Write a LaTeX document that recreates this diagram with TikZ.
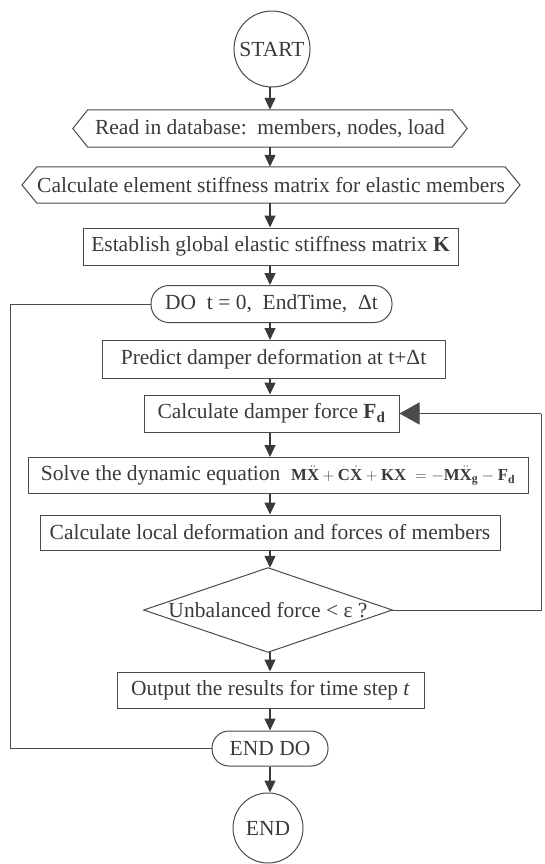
\documentclass[tikz,border=0pt]{standalone}
\usepackage{fontspec}
\setmainfont{Liberation Serif}
\usetikzlibrary{arrows.meta}
\definecolor{ink}{HTML}{3A3A3A}
\definecolor{edge}{HTML}{4A4A4A}
\begin{document}
\begin{tikzpicture}[x=1pt,y=-1pt,
  font=\fontsize{21.5}{25}\selectfont, text=ink,
  box/.style={draw=edge, line width=1pt, rectangle, inner sep=0pt},
  bare/.style={draw=none, rectangle, inner sep=0pt},
  term/.style={draw=edge, line width=1pt, circle, inner sep=0pt},
  outline/.style={draw=edge, line width=1pt},
  conn/.style={draw=ink, line width=1.3pt, -{Triangle[length=12pt,width=11pt]}},
  bigarr/.style={draw=edge, line width=1pt, -{Triangle[length=20pt,width=22pt]}},
  loopline/.style={draw=edge, line width=1pt}]
\useasboundingbox (0,0) rectangle (544,864);

\coordinate (ax) at (270,0);
\coordinate (L) at (10,0);
\coordinate (R) at (541,0);

\node[term, minimum size=76pt] (start) at (272,49) {START};

\node[bare, minimum width=364pt, minimum height=37pt] (read) at (270,128.5) {Read in database:\ \ members, nodes, load};
\draw[outline] (read.north west) -- (read.north east) -- ([xshift=15pt]read.east) -- (read.south east) -- (read.south west) -- ([xshift=-15pt]read.west) -- cycle;

\node[bare, minimum width=462pt, minimum height=36pt] (elem) at (271,185) {Calculate element stiffness matrix for elastic members};
\draw[outline] (elem.north west) -- (elem.north east) -- ([xshift=15pt]elem.east) -- (elem.south east) -- (elem.south west) -- ([xshift=-15pt]elem.west) -- cycle;

\node[box, minimum width=375pt, minimum height=37pt] (glob) at (270.5,246.5) {Establish global elastic stiffness matrix $\mathbf{K}$};

\node[box, rounded corners=18pt, minimum width=241pt, minimum height=37pt] (do) at (271.5,304) {DO\ \ t = 0,\ \ EndTime,\ \ Δt};

\node[box, minimum width=343pt, minimum height=38pt] (pred) at (273.5,359.5) {Predict damper deformation at t+Δt};

\node[box, minimum width=255pt, minimum height=37pt] (cd) at (271.5,413.5) {Calculate damper force $\mathbf{F}_{\mathbf{d}}$};

\node[box, minimum width=500pt, minimum height=36pt] (solve) at (278,475.5) {Solve the dynamic equation\ \ \scalebox{0.78}{$\mathbf{M}\ddot{\mathbf{X}}+\mathbf{C}\dot{\mathbf{X}}+\mathbf{KX}\;=-\mathbf{M}\ddot{\mathbf{X}}_{\mathbf{g}}-\mathbf{F}_{\mathbf{d}}$}};

\node[box, minimum width=460pt, minimum height=35pt] (local) at (270,532.5) {Calculate local deformation and forces of members};

\node[bare, minimum width=248pt, minimum height=84pt] (dec) at (268,610) {Unbalanced force < ε ?};
\draw[outline] (dec.north) -- (dec.east) -- (dec.south) -- (dec.west) -- cycle;

\node[box, minimum width=307pt, minimum height=36pt] (out) at (270.5,690) {Output the results for time step \textit{t}};

\node[box, rounded corners=17pt, minimum width=116pt, minimum height=35pt] (enddo) at (270,748.5) {END DO};

\node[term, minimum size=70pt] (end) at (268,828) {END};

% main flow
\draw[conn] (ax |- start.south) -- (ax |- read.north);
\draw[conn] (ax |- read.south) -- (ax |- elem.north);
\draw[conn] (ax |- elem.south) -- (ax |- glob.north);
\draw[conn] (ax |- glob.south) -- (ax |- do.north);
\draw[conn] (ax |- do.south) -- (ax |- pred.north);
\draw[conn] (ax |- pred.south) -- (ax |- cd.north);
\draw[conn] (ax |- cd.south) -- (ax |- solve.north);
\draw[conn] (ax |- solve.south) -- (ax |- local.north);
\draw[conn] (ax |- local.south) -- (ax |- dec.north);
\draw[conn] (ax |- dec.south) -- (ax |- out.north);
\draw[conn] (ax |- out.south) -- (ax |- enddo.north);
\draw[conn] (ax |- enddo.south) -- (ax |- end.north);

% loops
\draw[loopline] (do.west) -- (L |- do.west) -- (L |- enddo.west) -- (enddo.west);
\draw[loopline] (dec.east) -- (R |- dec.east) -- (R |- cd.east);
\draw[bigarr] (R |- cd.east) -- (cd.east);
\end{tikzpicture}
\end{document}
